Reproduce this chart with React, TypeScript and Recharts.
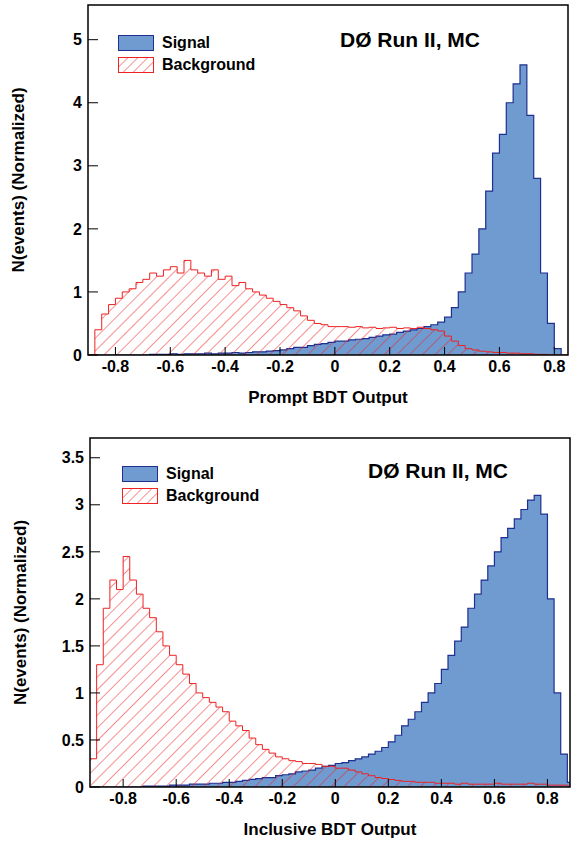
import { ComposedChart, Area, XAxis, YAxis, ReferenceArea } from 'recharts'

const topStart = -0.9
const botStart = -0.925
const binW = 0.025

const sigTop = [
  0, 0, 0, 0, 0, 0, 0, 0, 0, 0.01, 0.01, 0.01, 0.02, 0.01, 0.02, 0.02,
  0.02, 0.03, 0.02, 0.03, 0.03, 0.04, 0.03, 0.04, 0.05, 0.05, 0.06, 0.07, 0.08, 0.1, 0.12, 0.12,
  0.15, 0.17, 0.18, 0.2, 0.22, 0.22, 0.24, 0.25, 0.26, 0.28, 0.3, 0.32, 0.33, 0.36, 0.38, 0.4,
  0.42, 0.45, 0.48, 0.52, 0.6, 0.75, 1.0, 1.3, 1.6, 2.0, 2.6, 3.2, 3.5, 4.0, 4.3, 4.6,
  3.8, 2.8, 1.3, 0.5, 0.1, 0,
]
const bgTop = [
  0, 0.4, 0.65, 0.8, 0.9, 1.0, 1.05, 1.15, 1.2, 1.3, 1.25, 1.35, 1.4, 1.3, 1.5, 1.35,
  1.3, 1.25, 1.35, 1.2, 1.25, 1.1, 1.15, 1.05, 1.0, 0.95, 0.9, 0.85, 0.8, 0.75, 0.7, 0.62,
  0.55, 0.5, 0.48, 0.45, 0.45, 0.45, 0.44, 0.45, 0.43, 0.44, 0.42, 0.43, 0.44, 0.42, 0.43, 0.42,
  0.44, 0.42, 0.4, 0.38, 0.3, 0.22, 0.15, 0.1, 0.08, 0.06, 0.05, 0.04, 0.04, 0.03, 0.03, 0.02,
  0.02, 0.01, 0.01, 0, 0, 0,
]
const sigBot = [
  0, 0, 0, 0, 0, 0, 0, 0, 0.01, 0.01, 0.01, 0.01, 0.02, 0.02, 0.02, 0.03,
  0.03, 0.03, 0.04, 0.04, 0.05, 0.05, 0.06, 0.07, 0.08, 0.09, 0.1, 0.1, 0.12, 0.13, 0.14, 0.16,
  0.17, 0.18, 0.2, 0.22, 0.23, 0.25, 0.26, 0.28, 0.3, 0.32, 0.35, 0.38, 0.42, 0.48, 0.55, 0.65,
  0.72, 0.8, 0.9, 1.0, 1.1, 1.25, 1.4, 1.55, 1.7, 1.9, 2.05, 2.2, 2.35, 2.5, 2.65, 2.75,
  2.85, 2.95, 3.05, 3.1, 2.9, 2.0, 1.0, 0.35, 0.05,
]
const bgBot = [
  0.3, 1.3, 1.9, 2.2, 2.1, 2.45, 2.2, 2.05, 1.9, 1.8, 1.65, 1.5, 1.4, 1.3, 1.2, 1.1,
  1.0, 0.95, 0.9, 0.85, 0.8, 0.7, 0.65, 0.6, 0.52, 0.45, 0.4, 0.36, 0.32, 0.3, 0.28, 0.27,
  0.25, 0.25, 0.24, 0.22, 0.22, 0.2, 0.2, 0.18, 0.16, 0.14, 0.12, 0.1, 0.09, 0.08, 0.07, 0.06,
  0.06, 0.05, 0.05, 0.05, 0.04, 0.04, 0.04, 0.03, 0.04, 0.03, 0.03, 0.03, 0.03, 0.04, 0.03, 0.03,
  0.03, 0.03, 0.04, 0.03, 0.03, 0.02, 0.02, 0.02, 0.01,
]

const topXTicks = [-0.8, -0.6, -0.4, -0.2, 0, 0.2, 0.4, 0.6, 0.8]
const topYTicks = [0, 1, 2, 3, 4, 5]
const botXTicks = [-0.8, -0.6, -0.4, -0.2, 0, 0.2, 0.4, 0.6, 0.8]
const botYTicks = [0, 0.5, 1, 1.5, 2, 2.5, 3, 3.5]

function buildRows(start: number, sig: number[], bg: number[]) {
  const rows = sig.map((s, i) => ({ x: +(start + i * binW).toFixed(4), sig: s, bg: bg[i] }))
  const n = sig.length
  rows.push({ x: +(start + n * binW).toFixed(4), sig: sig[n - 1], bg: bg[n - 1] })
  return rows
}

const font = '"Liberation Sans", Arial, sans-serif'
const tick = { fontSize: 16, fontWeight: 700, fill: '#000', fontFamily: font }
const fmt = (v: number) => String(v)

interface PanelProps {
  id: string
  rows: { x: number; sig: number; bg: number }[]
  xDomain: [number, number]
  yDomain: [number, number]
  xTicks: number[]
  yTicks: number[]
  xLabel: string
  height: number
  margin: { top: number; right: number; left: number; bottom: number }
  legendTop: number
  legendLeft: number
  titleLeft: number
}

function Panel(p: PanelProps) {
  return (
    <div style={{ position: 'relative', width: 585, height: p.height }}>
      <ComposedChart width={585} height={p.height} data={p.rows} margin={p.margin}>
        <defs>
          <pattern id={`hatch-${p.id}`} width="9" height="9" patternUnits="userSpaceOnUse" patternTransform="rotate(45)">
            <line x1="0" y1="0" x2="0" y2="9" stroke="#ee2222" strokeWidth="1" />
          </pattern>
        </defs>
        <XAxis
          dataKey="x"
          type="number"
          domain={p.xDomain}
          ticks={p.xTicks}
          tick={tick}
          tickFormatter={fmt}
          allowDataOverflow
          height={50}
          tickSize={-8}
          tickMargin={14}
          axisLine={false}
          tickLine={{ stroke: '#000' }}
          label={{ value: p.xLabel, position: 'insideBottom', offset: 2, style: { ...tick, fontSize: 17 } }}
        />
        <YAxis
          type="number"
          domain={p.yDomain}
          ticks={p.yTicks}
          tick={tick}
          tickFormatter={fmt}
          allowDataOverflow
          width={88}
          tickSize={-10}
          tickMargin={16}
          axisLine={false}
          tickLine={{ stroke: '#000' }}
          label={{ value: 'N(events) (Normalized)', angle: -90, position: 'insideLeft', offset: 18, style: { ...tick, fontSize: 17, textAnchor: 'middle' } }}
        />
        <Area type="stepAfter" dataKey="sig" stroke="#1f2f8f" strokeWidth={1.2} fill="#6f9bd1" fillOpacity={1} isAnimationActive={false} />
        <Area type="stepAfter" dataKey="bg" stroke="#ee2222" strokeWidth={1} fill={`url(#hatch-${p.id})`} fillOpacity={1} isAnimationActive={false} />
        <ReferenceArea x1={p.xDomain[0]} x2={p.xDomain[1]} y1={p.yDomain[0]} y2={p.yDomain[1]} fill="none" stroke="#000" strokeWidth={1.5} ifOverflow="visible" />
      </ComposedChart>
      <div style={{ position: 'absolute', left: p.legendLeft, top: p.legendTop, fontFamily: font, fontWeight: 700, fontSize: 16 }}>
        <div style={{ display: 'flex', alignItems: 'center', height: 22 }}>
          <svg width={36} height={16} style={{ marginRight: 8 }}>
            <rect x={0.5} y={0.5} width={35} height={15} fill="#6f9bd1" stroke="#1f2f8f" />
          </svg>
          Signal
        </div>
        <div style={{ display: 'flex', alignItems: 'center', height: 22 }}>
          <svg width={36} height={16} style={{ marginRight: 8 }}>
            <defs>
              <pattern id={`lh-${p.id}`} width="7" height="7" patternUnits="userSpaceOnUse" patternTransform="rotate(45)">
                <line x1="0" y1="0" x2="0" y2="7" stroke="#ee2222" strokeWidth="1" />
              </pattern>
            </defs>
            <rect x={0.5} y={0.5} width={35} height={15} fill={`url(#lh-${p.id})`} stroke="#ee2222" />
          </svg>
          Background
        </div>
      </div>
      <div style={{ position: 'absolute', left: p.titleLeft, top: p.legendTop - 4, fontFamily: font, fontWeight: 700, fontSize: 21 }}>
        DØ Run II, MC
      </div>
    </div>
  )
}

export default function App() {
  return (
    <div style={{ position: 'fixed', left: 0, top: 0, width: 585, height: 841, background: '#fff' }}>
      <Panel
        id="top"
        rows={buildRows(topStart, sigTop, bgTop)}
        xDomain={[-0.9, 0.85]}
        yDomain={[0, 5.55]}
        xTicks={topXTicks}
        yTicks={topYTicks}
        xLabel="Prompt BDT Output"
        height={410}
        margin={{ top: 5, right: 17, left: 0, bottom: 5 }}
        legendTop={32}
        legendLeft={118}
        titleLeft={340}
      />
      <div style={{ height: 20 }} />
      <Panel
        id="bot"
        rows={buildRows(botStart, sigBot, bgBot)}
        xDomain={[-0.925, 0.885]}
        yDomain={[0, 3.71]}
        xTicks={botXTicks}
        yTicks={botYTicks}
        xLabel="Inclusive BDT Output"
        height={411}
        margin={{ top: 8, right: 15, left: 2, bottom: 4 }}
        legendTop={33}
        legendLeft={122}
        titleLeft={368}
      />
    </div>
  )
}
